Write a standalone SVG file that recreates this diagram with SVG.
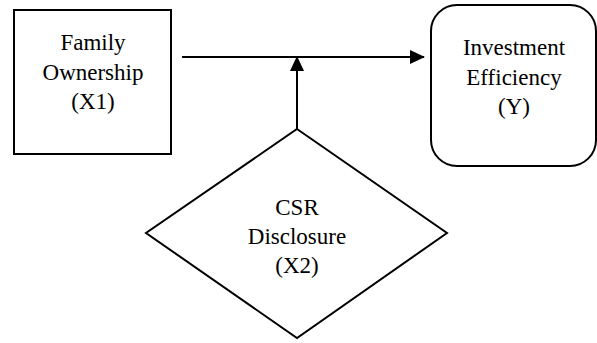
<svg xmlns="http://www.w3.org/2000/svg" width="597" height="343" viewBox="0 0 597 343">
<style>
.s{fill:#fff;stroke:#000;stroke-width:2}
.c{stroke:#000;stroke-width:2;fill:none}
.t{font-family:"Liberation Serif","Times New Roman",serif;font-size:23px;text-anchor:middle;fill:#000}
</style>
<defs>
<marker id="ah2" markerWidth="15" markerHeight="14" refX="14" refY="7" orient="auto" markerUnits="userSpaceOnUse" viewBox="0 0 15 14">
<path d="M0,0 L15,7 L0,14 Z" fill="#000"/>
</marker>
</defs>
<rect width="597" height="343" fill="#fff"/>
<g id="x1">
<rect class="s" x="14" y="10" width="157" height="144"/>
<text class="t" x="93" y="50">Family</text>
<text class="t" x="93" y="80">Ownership</text>
<text class="t" x="93" y="109">(X1)</text>
</g>
<g id="y">
<rect class="s" x="431" y="5" width="165" height="161" rx="26" ry="26"/>
<text class="t" x="514" y="55">Investment</text>
<text class="t" x="514" y="85">Efficiency</text>
<text class="t" x="514" y="114">(Y)</text>
</g>
<g id="x2">
<polygon class="s" points="297,129 447,233 297,338 146,233"/>
<text class="t" x="297" y="215">CSR</text>
<text class="t" x="297" y="244">Disclosure</text>
<text class="t" x="297" y="273">(X2)</text>
</g>
<g id="connectors">
<line class="c" x1="182" y1="57" x2="424" y2="57" marker-end="url(#ah2)"/>
<line class="c" x1="297" y1="129" x2="297" y2="57" marker-end="url(#ah2)"/>
</g>
</svg>
